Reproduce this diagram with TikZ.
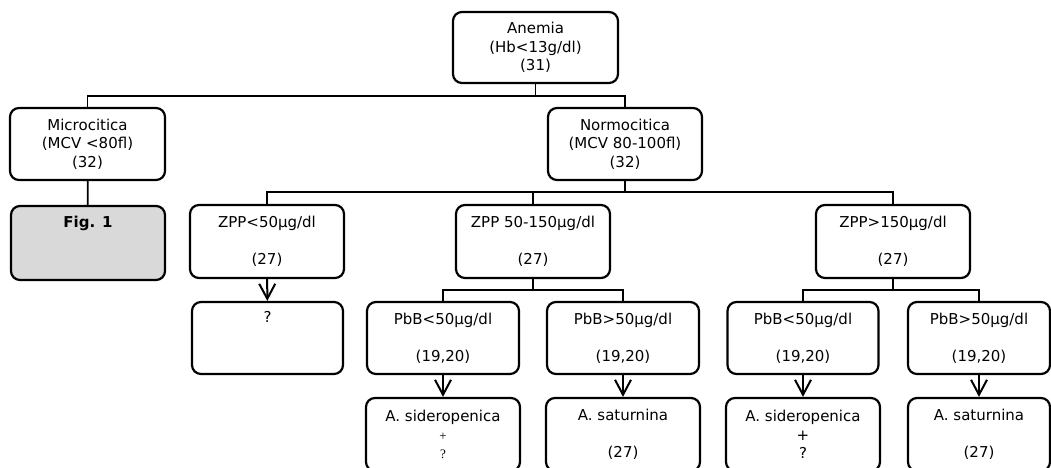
\documentclass[tikz,border=0pt]{standalone}
\usepackage{fontspec}
\setmainfont{DejaVu Sans}
\newfontfamily\plusfont{Liberation Serif}
\usetikzlibrary{arrows.meta}

\begin{document}
\begin{tikzpicture}[x=1pt, y=-1pt,
	rbox/.style={draw, rounded corners=9pt, line width=2.2pt, minimum width=#1,
		minimum height=72pt, inner sep=0pt, align=center,
		font=\fontsize{15}{18.5}\selectfont},
	rbox/.default=154pt,
	link/.style={line width=1.8pt},
	arrowlink/.style={line width=2pt, -{Straight Barb[length=15pt, width=16pt]}}]

	\useasboundingbox (0,0) rectangle (1051,468);
	\clip (0,0) rectangle (1051,468);

	% First two levels
	\node[rbox=165pt, minimum height=71pt] (anemia) at (535.5,47.5) {Anemia\\(Hb<13g/dl)\\(31)};
	\node[rbox=155pt] (micro) at (87.5,144) {Microcitica\\(MCV <80fl)\\(32)};
	\node[rbox] (normo) at (625,144) {Normocitica\\(MCV 80-100fl)\\(32)};

	\node[rbox, minimum height=74pt, fill=gray!30] (fig) at (88,243) {\textbf{Fig. 1}\\\strut\\\strut};

	% ZPP boxes
	\node[rbox, minimum height=73pt] (zpplow) at (267,241.5) {ZPP<50µg/dl\\\strut\\(27)};
	\node[rbox, minimum height=73pt] (zppmid) at (533,241.5) {ZPP 50-150µg/dl\\\strut\\(27)};
	\node[rbox, minimum height=73pt] (zpphigh) at (893,241.5) {ZPP>150µg/dl\\\strut\\(27)};

	% PbB boxes
	\node[rbox=151pt] (unknown) at (267.5,338) {?\\\strut\\\strut};
	\node[rbox=152pt] (pbbA) at (443,338) {PbB<50µg/dl\\\strut\\(19,20)};
	\node[rbox=152pt] (pbbB) at (623,338) {PbB>50µg/dl\\\strut\\(19,20)};
	\node[rbox=151pt] (pbbC) at (803,338) {PbB<50µg/dl\\\strut\\(19,20)};
	\node[rbox=142pt] (pbbD) at (979,338) {PbB>50µg/dl\\\strut\\(19,20)};

	% Result boxes (cut at the bottom)
	\node[rbox, minimum height=73pt] (resA) at (443,434.5) {A. sideropenica\\{\plusfont\fontsize{13}{15}\selectfont +}\\{\plusfont\fontsize{13}{15}\selectfont ?}};
	\node[rbox, minimum height=73pt] (resB) at (623,434.5) {A. saturnina\\\strut\\(27)};
	\node[rbox, minimum height=73pt] (resC) at (803,434.5) {A. sideropenica\\+\\?};
	\node[rbox=142pt, minimum height=73pt] (resD) at (979,434.5) {A. saturnina\\\strut\\(27)};

	% Draw the tree lines
	\coordinate (busone) at (535.5,96);
	\draw[link] (anemia) -- (busone) -| (micro);
	\draw[link] (busone) -| (normo);
	\draw[link] (micro) -- (fig);

	\coordinate (bustwo) at (625,192);
	\draw[link] (normo) -- (bustwo) -| (zpplow);
	\draw[link] (bustwo) -| (zppmid);
	\draw[link] (bustwo) -| (zpphigh);

	\coordinate (busthree) at (533,290);
	\draw[link] (zppmid) -- (busthree) -| (pbbA);
	\draw[link] (busthree) -| (pbbB);

	\coordinate (busfour) at (893,290);
	\draw[link] (zpphigh) -- (busfour) -| (pbbC);
	\draw[link] (busfour) -| (pbbD);

	% Draw the arrows
	\draw[arrowlink] (zpplow) -- (unknown);
	\draw[arrowlink] (pbbA) -- (resA);
	\draw[arrowlink] (pbbB) -- (resB);
	\draw[arrowlink] (pbbC) -- (resC);
	\draw[arrowlink] (pbbD) -- (resD);

\end{tikzpicture}
\end{document}
